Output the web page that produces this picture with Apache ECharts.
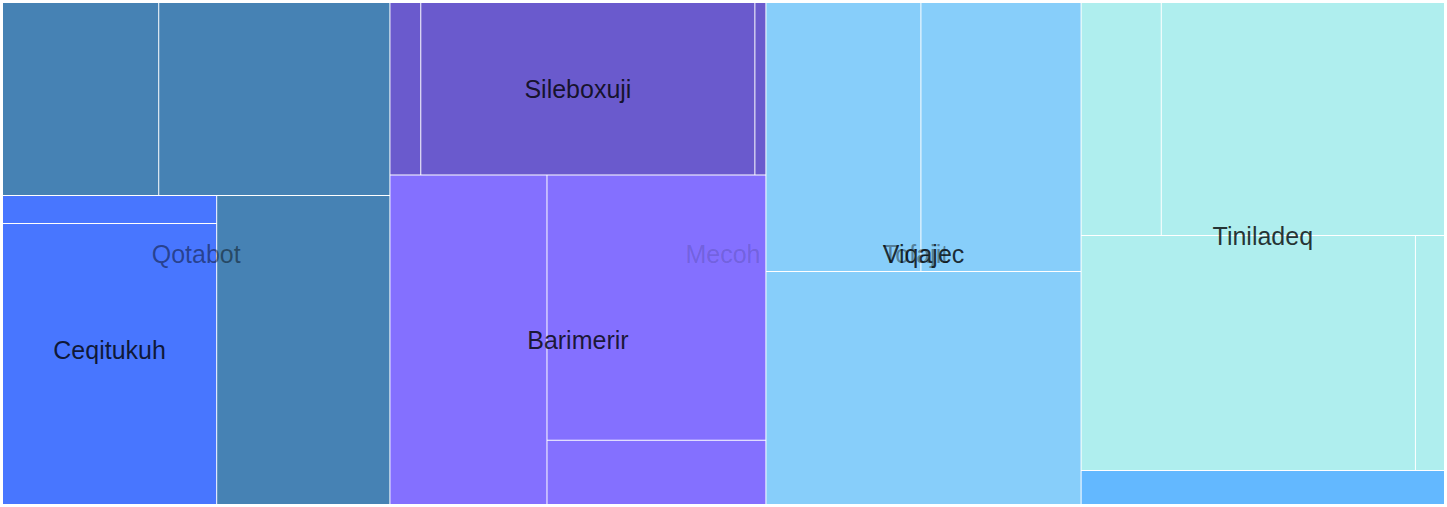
<!DOCTYPE html>
<html>
<head>
<meta charset="utf-8">
<script src="https://cdn.jsdelivr.net/npm/echarts@6/dist/echarts.min.js"></script>
<style>
html,body{margin:0;padding:0;background:#fff;}
#chart{width:1447px;height:507px;}
</style>
</head>
<body>
<div id="chart"></div>
<script>
// ---------------- data (hierarchy in drawing order) ----------------
const nodeNames = [
  'Qotabot', 'Qotabot 1', 'Qotabot 2', 'Ceqitukuh', 'Ceqitukuh 1', 'Ceqitukuh 2', 'Qotabot 3',
  'Mecoh', 'Sileboxuji', 'Sileboxuji 1', 'Sileboxuji 2', 'Sileboxuji 3',
  'Barimerir', 'Barimerir 1', 'Barimerir 2', 'Barimerir 3',
  'Tofajit', 'Viqajec', 'Viqajec 1', 'Viqajec 2', 'Viqajec 3',
  'Group 4', 'Tiniladeq', 'Tiniladeq 1', 'Tiniladeq 2', 'Tiniladeq 3', 'Tiniladeq 4', 'Group 4 1'
];
const nodeParents = [
  '', 'Qotabot', 'Qotabot', 'Qotabot', 'Ceqitukuh', 'Ceqitukuh', 'Qotabot',
  '', 'Mecoh', 'Sileboxuji', 'Sileboxuji', 'Sileboxuji',
  'Mecoh', 'Barimerir', 'Barimerir', 'Barimerir',
  '', 'Tofajit', 'Viqajec', 'Viqajec', 'Viqajec',
  '', 'Group 4', 'Tiniladeq', 'Tiniladeq', 'Tiniladeq', 'Tiniladeq', 'Group 4'
];
// leaf values (null = group, value is the sum of its children)
const nodeValues = [
  null, 300, 444, null, 60, 599, 533,
  null, null, 53, 574, 19,
  null, 515, 578, 140,
  null, null, 415, 429, 731,
  null, null, 186, 657, 782, 68, 123
];

// ---------------- styles ----------------
const fillColors = {
  'Qotabot': '#4682B4', 'Ceqitukuh': '#4876FF',
  'Mecoh': '#6A5ACD', 'Sileboxuji': '#6A5ACD', 'Barimerir': '#8470FF',
  'Tofajit': '#87CEFA', 'Viqajec': '#87CEFA',
  'Group 4': '#AFEEEE', 'Tiniladeq': '#AFEEEE', 'Group 4 1': '#63B8FF'
};
const topLabelStyle = {
  'Qotabot': { alpha: 0.45, dx: 0 },
  'Mecoh': { alpha: 0.15, dx: 145 },
  'Tofajit': { alpha: 0.4, dx: -8 }
};
const FONT = 'Liberation Sans, Arial, sans-serif';
const FONT_SIZE = 25;

// ---------------- build tree ----------------
const byName = {};
const roots = [];
nodeNames.forEach(function (name, i) {
  const p = nodeParents[i];
  const parent = p ? byName[p] : null;
  const node = {
    name: name,
    depth: parent ? parent.depth + 1 : 0,
    children: [],
    leafValue: nodeValues[i],
    color: fillColors[name] || (parent ? parent.color : '#ccc')
  };
  byName[name] = node;
  (parent ? parent.children : roots).push(node);
});
function total(n) {
  if (!n.children.length) return n.leafValue;
  return n.children.reduce(function (s, c) { return s + total(c); }, 0);
}
function toData(n, maxDepth, decorate) {
  const item = { name: n.name, value: total(n) };
  const hasKids = n.children.length > 0;
  if (hasKids && n.depth < maxDepth) {
    item.children = n.children.map(function (c) { return toData(c, maxDepth, decorate); });
  }
  decorate(n, item, hasKids && n.depth < maxDepth);
  return item;
}

const gapStyle = { borderWidth: 0, gapWidth: 1, borderColorSaturation: null };
const base = {
  type: 'treemap',
  left: 3, top: 3, width: 1441, height: 501,
  sort: false,
  squareRatio: 1,
  roam: false,
  nodeClick: false,
  visibleMin: 0,
  drillDownIcon: '',
  breadcrumb: { show: false },
  animation: false,
  emphasis: { disabled: true },
  upperLabel: { show: false }
};
const labelBase = {
  position: 'inside', align: 'center', verticalAlign: 'middle',
  padding: 0, overflow: 'none', fontFamily: FONT, fontSize: FONT_SIZE
};

// series 1: filled rectangles, no labels
const fillSeries = Object.assign({}, base, {
  z: 2,
  itemStyle: Object.assign({ borderColor: '#fff' }, gapStyle),
  levels: [{ color: roots.map(function (r) { return r.color; }), itemStyle: Object.assign({ borderColor: '#fff' }, gapStyle) }],
  label: { show: false },
  data: roots.map(function (r) {
    return toData(r, 99, function (n, item, expanded) {
      item.itemStyle = Object.assign({ color: n.color, borderColor: '#fff' }, gapStyle);
      if (expanded) item.color = n.children.map(function (c) { return c.color; });
    });
  })
});

const clear = 'rgba(0,0,0,0)';
// series 2: labels of the second-level groups
const midSeries = Object.assign({}, base, {
  silent: true,
  z: 5,
  itemStyle: Object.assign({ color: clear, borderColor: clear }, gapStyle),
  levels: [{ color: [clear], itemStyle: Object.assign({ color: clear, borderColor: clear }, gapStyle) }],
  label: Object.assign({ show: false }, labelBase),
  data: roots.map(function (r) {
    return toData(r, 1, function (n, item, expanded) {
      item.itemStyle = Object.assign({ color: clear, borderColor: clear }, gapStyle);
      if (expanded) item.color = [clear];
      if (n.depth === 1 && n.children.length) {
        item.label = Object.assign({ show: true, color: 'rgba(0,0,0,0.8)' }, labelBase);
      }
    });
  })
});

// series 3: faded labels of the top-level groups
const topSeries = Object.assign({}, base, {
  silent: true,
  z: 6,
  itemStyle: Object.assign({ color: clear, borderColor: clear }, gapStyle),
  levels: [{ color: [clear], itemStyle: Object.assign({ color: clear, borderColor: clear }, gapStyle) }],
  label: Object.assign({ show: false }, labelBase),
  data: roots.map(function (r) {
    return toData(r, 0, function (n, item) {
      item.itemStyle = Object.assign({ color: clear, borderColor: clear }, gapStyle);
      const st = topLabelStyle[n.name];
      if (st) {
        item.label = Object.assign({ show: true, color: 'rgba(0,0,0,' + st.alpha + ')', offset: [st.dx, 0] }, labelBase);
      }
    });
  })
});

const chart = echarts.init(document.getElementById('chart'), null, { renderer: 'svg' });
chart.setOption({
  backgroundColor: '#fff',
  animation: false,
  series: [fillSeries, midSeries, topSeries]
});
</script>
</body>
</html>
